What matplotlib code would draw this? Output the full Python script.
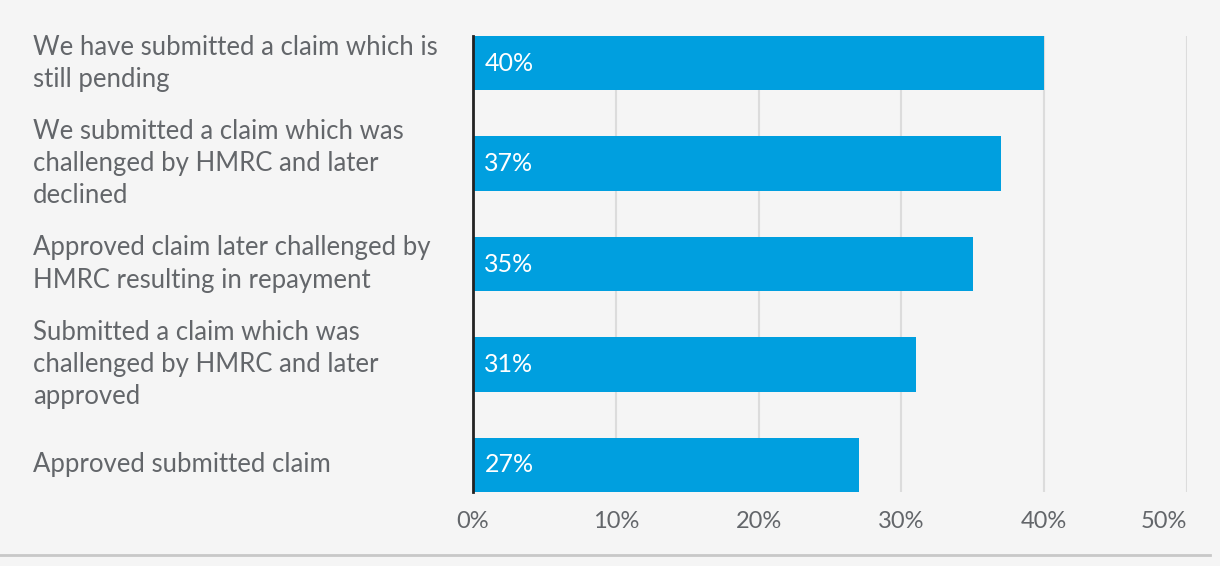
import matplotlib.pyplot as plt
import matplotlib.transforms as mtrans
from matplotlib.lines import Line2D

# data
labels = ["We have submitted a claim which is\nstill pending",
          "We submitted a claim which was\nchallenged by HMRC and later\ndeclined",
          "Approved claim later challenged by\nHMRC resulting in repayment",
          "Submitted a claim which was\nchallenged by HMRC and later\napproved",
          "Approved submitted claim"]
values = [40, 37, 35, 31, 27]
xticks = [0, 10, 20, 30, 40, 50]

bg = '#f5f5f5'
blue = '#009fdf'
txt = '#63666a'

plt.rcParams['font.family'] = ['Lato', 'DejaVu Sans']

fig = plt.figure(figsize=(12.2, 5.66), dpi=100, facecolor=bg)
ax = fig.add_axes([473/1220, 1-492/566, (1187-473)/1220, (492-36)/566])
ax.set_facecolor(bg)

ypos = list(range(len(values)))
ax.barh(ypos, values, height=0.54, color=blue, zorder=3)
for y, v in zip(ypos, values):
    ax.text(0.8, y, f"{v}%", color='white', fontsize=18, va='center', ha='left', zorder=4)

ax.set_xlim(0, 50)
ax.set_ylim(4.27, -0.27)
ax.set_xticks(xticks)
ax.set_xticklabels([f"{t}%" for t in xticks], fontsize=17, color=txt)
ax.get_xticklabels()[-1].set_ha('right')   # last label kept inside the plot
ax.set_yticks([])
ax.tick_params(axis='x', length=0, pad=14)
for t in xticks[1:]:
    ax.axvline(t, color='#dcdcdc', lw=1.5, zorder=1)

for s in ['top', 'right', 'bottom']:
    ax.spines[s].set_visible(False)
ax.spines['left'].set_color('#222222')
ax.spines['left'].set_linewidth(2)
ax.spines['left'].set_zorder(5)

# category labels: figure x, data y
trans = mtrans.blended_transform_factory(fig.transFigure, ax.transData)
for y, lab in zip(ypos, labels):
    ax.text(33/1220, y, lab, transform=trans, fontsize=18.5, color=txt,
            va='center', ha='left', linespacing=1.36, clip_on=False)

fig.add_artist(Line2D([0, 1210/1220], [1-555/566, 1-555/566], transform=fig.transFigure,
                      color='#c8c8c8', lw=2))

fig.savefig('out.png', dpi=100, facecolor=bg)
